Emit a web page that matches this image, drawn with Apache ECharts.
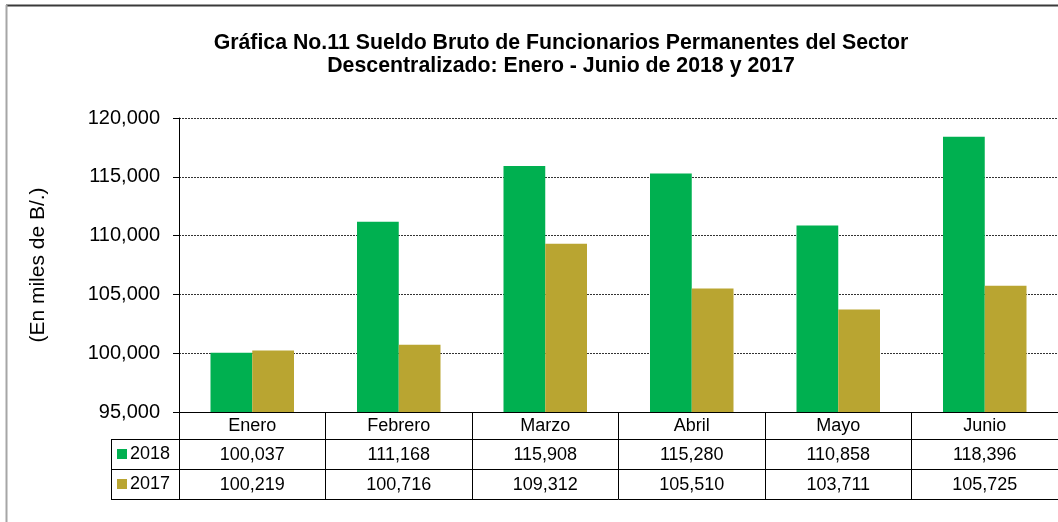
<!DOCTYPE html>
<html>
<head>
<meta charset="utf-8">
<script src="https://cdn.jsdelivr.net/npm/echarts@6/dist/echarts.min.js"></script>
<style>
html,body{margin:0;padding:0;background:#fff;}
#chart{width:1058px;height:522px;}
</style>
</head>
<body>
<div id="chart"></div>
<script>
const titleText = 'Gráfica No.11 Sueldo Bruto de Funcionarios Permanentes del Sector\nDescentralizado: Enero - Junio de 2018 y 2017';
const yAxisName = '(En miles de B/.)';
const categories = ['Enero', 'Febrero', 'Marzo', 'Abril', 'Mayo', 'Junio'];
const seriesNames = ['2018', '2017'];
const values2018 = [100037, 111168, 115908, 115280, 110858, 118396];
const values2017 = [100219, 100716, 109312, 105510, 103711, 105725];
const yMin = 95000, yMax = 120000, yInterval = 5000;

const FONT = "'Liberation Sans', Arial, sans-serif";
function fmt(v) {
  return String(Math.round(v)).replace(/\B(?=(\d{3})+(?!\d))/g, ',');
}

const chart = echarts.init(document.getElementById('chart'), null, {renderer: 'canvas'});

const GL = 179, GT = 118, GB = 412, W = 1058;

const tableAxis = (offset, values, margin, showLabel) => ({
  type: 'category',
  data: categories,
  gridIndex: 0,
  position: 'bottom',
  offset: offset,
  axisLine: {show: true, lineStyle: {color: '#000', width: 1}},
  axisTick: {show: false},
  axisLabel: {
    show: showLabel,
    margin: margin,
    interval: 0,
    fontFamily: FONT,
    fontSize: 18,
    lineHeight: 18,
    color: '#000',
    formatter: (v, i) => values ? fmt(values[i]) : v
  },
  axisPointer: {show: false}
});

const option = {
  backgroundColor: '#fff',
  animation: false,
  title: {
    text: titleText,
    left: 561,
    top: 32,
    padding: 0,
    textAlign: 'center',
    textStyle: {
      fontFamily: FONT,
      fontWeight: 'bold',
      fontSize: 21.3,
      lineHeight: 23,
      color: '#000'
    }
  },
  legend: {
    orient: 'vertical',
    left: 117,
    top: 444,
    padding: 0,
    itemGap: 10,
    itemWidth: 10,
    itemHeight: 10,
    icon: 'rect',
    data: seriesNames,
    textStyle: {fontFamily: FONT, fontSize: 18, lineHeight: 20, color: '#000', padding: [0, 0, 0, -2]}
  },
  grid: {left: GL, top: GT, right: 0, bottom: 522 - GB, containLabel: false},
  xAxis: [
    {
      type: 'category',
      data: categories,
      gridIndex: 0,
      position: 'bottom',
      axisLine: {show: true, lineStyle: {color: '#000', width: 1}},
      axisTick: {show: true, interval: 0, length: 87, inside: false, lineStyle: {color: '#000', width: 1}},
      axisLabel: {interval: 0, margin: 5, fontFamily: FONT, fontSize: 18, lineHeight: 18, color: '#000'},
      splitLine: {show: false}
    },
    tableAxis(27, values2018, 7, true),
    tableAxis(57, values2017, 7, true),
    tableAxis(87, null, 7, false)
  ],
  yAxis: {
    type: 'value',
    min: yMin,
    max: yMax,
    interval: yInterval,
    name: yAxisName,
    nameLocation: 'middle',
    nameRotate: 90,
    nameGap: 130,
    nameTextStyle: {fontFamily: FONT, fontSize: 21, color: '#000'},
    axisLine: {show: true, lineStyle: {color: '#000', width: 1}},
    axisTick: {show: true, length: 6, lineStyle: {color: '#000'}},
    axisLabel: {margin: 19, fontFamily: FONT, fontSize: 20, color: '#000', formatter: v => fmt(v)},
    splitLine: {show: true, lineStyle: {color: '#333', width: 1, type: [2, 1]}}
  },
  series: [
    {
      name: seriesNames[0],
      type: 'bar',
      data: values2018,
      barGap: '0%',
      barCategoryGap: '43%',
      itemStyle: {color: '#00b050'}
    },
    {
      name: seriesNames[1],
      type: 'bar',
      data: values2017,
      barGap: '0%',
      barCategoryGap: '43%',
      itemStyle: {color: '#b9a531'}
    }
  ],
  graphic: [
    {type: 'line', shape: {x1: 6, y1: 5.5, x2: W, y2: 5.5}, style: {stroke: '#3a3a3a', lineWidth: 2}, silent: true},
    {type: 'line', shape: {x1: 6.5, y1: 5, x2: 6.5, y2: 522}, style: {stroke: '#a6a6a6', lineWidth: 2}, silent: true},
    {type: 'line', shape: {x1: 111, y1: 439.5, x2: GL, y2: 439.5}, style: {stroke: '#000', lineWidth: 1}, silent: true},
    {type: 'line', shape: {x1: 111, y1: 469.5, x2: GL, y2: 469.5}, style: {stroke: '#000', lineWidth: 1}, silent: true},
    {type: 'line', shape: {x1: 111, y1: 499.5, x2: GL, y2: 499.5}, style: {stroke: '#000', lineWidth: 1}, silent: true},
    {type: 'line', shape: {x1: 111.5, y1: 439, x2: 111.5, y2: 500}, style: {stroke: '#000', lineWidth: 1}, silent: true}
  ]
};

chart.setOption(option);
</script>
</body>
</html>
